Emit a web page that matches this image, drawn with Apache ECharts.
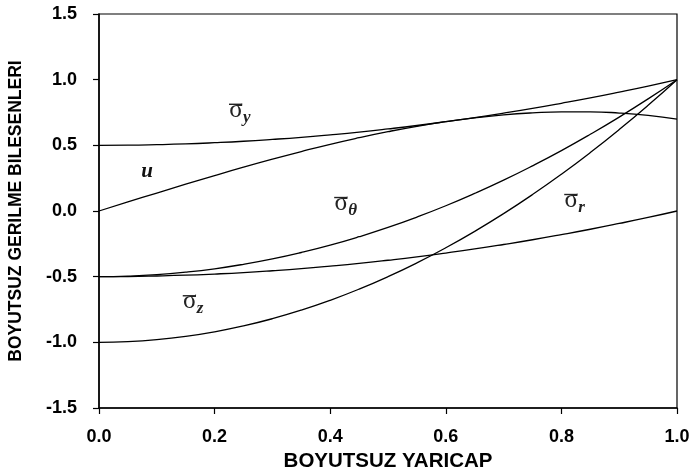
<!DOCTYPE html>
<html><head><meta charset="utf-8">
<script src="https://cdn.jsdelivr.net/npm/echarts@6/dist/echarts.min.js"></script>
<style>html,body{margin:0;padding:0;background:#fff}#c{width:693px;height:470px}</style>
</head><body><div id="c"></div>
<script>
const xs = [0,0.05,0.1,0.15,0.2,0.25,0.3,0.35,0.4,0.45,0.5,0.55,0.6,0.65,0.7,0.75,0.8,0.85,0.9,0.95,1.0];
const sigmaY = [0.5,0.501,0.505,0.511,0.52,0.531,0.545,0.561,0.58,0.601,0.625,0.651,0.68,0.711,0.745,0.781,0.82,0.861,0.905,0.951,1.0];
const uDisp = [0,0.069,0.137,0.204,0.270,0.334,0.395,0.453,0.508,0.558,0.604,0.645,0.680,0.709,0.732,0.747,0.755,0.755,0.746,0.728,0.70];
const sigmaTheta = [-0.5,-0.496,-0.485,-0.466,-0.44,-0.406,-0.365,-0.316,-0.26,-0.196,-0.125,-0.046,0.04,0.134,0.235,0.344,0.46,0.584,0.715,0.854,1.0];
const sigmaR = [-0.5,-0.499,-0.495,-0.489,-0.48,-0.469,-0.455,-0.439,-0.42,-0.399,-0.375,-0.349,-0.32,-0.289,-0.255,-0.219,-0.18,-0.139,-0.095,-0.049,0.0];
const sigmaZ = [-1,-0.995,-0.98,-0.955,-0.92,-0.875,-0.82,-0.755,-0.68,-0.595,-0.5,-0.395,-0.28,-0.155,-0.02,0.125,0.28,0.445,0.62,0.805,1.0];
const curveNames = ['σy','u','σθ','σr','σz'];
// curve annotations: anchor (glyph centre) in data coords
const annX = [0.237, 0.083, 0.419, 0.817, 0.157];
const annY = [0.744, 0.29, 0.034, 0.057, -0.714];
const annSub = ['y', '', 'θ', 'r', 'z'];
const xAxisTitle = 'BOYUTSUZ YARICAP';
const yAxisTitle = 'BOYUTSUZ GERILME BILESENLERI';

function pairs(ys){ return xs.map((x,i)=>[x, ys[i]]); }
const allSeries = [sigmaY, uDisp, sigmaTheta, sigmaR, sigmaZ];

const sans = 'Liberation Sans, Arial, sans-serif';
const chart = echarts.init(document.getElementById('c'));
const labelFont = {fontFamily:sans, fontWeight:'bold', fontSize:18, color:'#000'};
chart.setOption({
  animation:false,
  backgroundColor:'#fff',
  grid:{left:99, right:16, top:14, bottom:62, containLabel:false, outerBoundsMode:'none',
    show:true, borderColor:'#000', borderWidth:1.2},
  xAxis:{type:'value', min:0, max:1, interval:0.2,
    axisLine:{onZero:false, lineStyle:{color:'#000', width:1.5}},
    axisTick:{inside:false, length:6, lineStyle:{color:'#000', width:1.2}},
    splitLine:{show:false},
    axisLabel:Object.assign({margin:20, formatter:v=>v.toFixed(1)}, labelFont),
    name:xAxisTitle, nameLocation:'middle', nameGap:40,
    nameTextStyle:{fontFamily:sans, fontWeight:'bold', fontSize:20.5, color:'#000'}
  },
  yAxis:{type:'value', min:-1.5, max:1.5, interval:0.5,
    axisLine:{onZero:false, lineStyle:{color:'#000', width:1.5}},
    axisTick:{inside:false, length:6, lineStyle:{color:'#000', width:1.2}},
    splitLine:{show:false},
    axisLabel:Object.assign({margin:22, formatter:v=>v.toFixed(1)}, labelFont),
    name:yAxisTitle, nameLocation:'middle', nameGap:74,
    nameTextStyle:{fontFamily:sans, fontWeight:'bold', fontSize:17.5, color:'#000'}
  },
  series: allSeries.map((ys,i)=>({
    name:curveNames[i], type:'line', smooth:true, showSymbol:false, data:pairs(ys),
    lineStyle:{color:'#000', width:1.3}
  }))
});

const serif = 'Liberation Serif, Times New Roman, DejaVu Serif, serif';
const graphics = [];
annX.forEach((ax,i)=>{
  const p = chart.convertToPixel({gridIndex:0}, [ax, annY[i]]);
  const cx = p[0], cy = p[1];
  if(!annSub[i]){
    graphics.push({type:'text', x:cx, y:cy-1, style:{text:'u', font:'italic bold 21px '+serif, fill:'#111', align:'center', verticalAlign:'middle'}});
    return;
  }
  graphics.push({type:'text', x:cx, y:cy-3, style:{text:'σ', font:'25px '+serif, fill:'#222', align:'center', verticalAlign:'middle'}});
  graphics.push({type:'line', shape:{x1:cx-7, y1:cy-9, x2:cx+6, y2:cy-9}, style:{stroke:'#222', lineWidth:1.4}});
  graphics.push({type:'text', x:cx+7, y:cy+4, style:{text:annSub[i], font:'italic bold 17px '+serif, fill:'#222', align:'left', verticalAlign:'middle'}});
});
chart.setOption({graphic:graphics});
</script></body></html>
